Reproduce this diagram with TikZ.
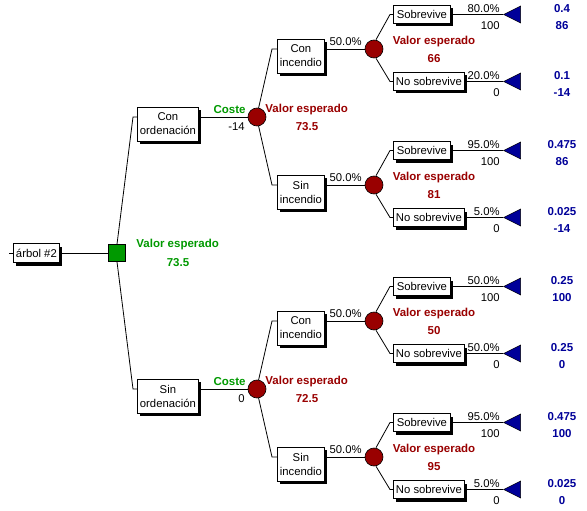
\documentclass[tikz,border=0pt]{standalone}
\usepackage{fontspec}
\setmainfont{Liberation Sans}
\usetikzlibrary{shapes.geometric,shadows}
\definecolor{dgreen}{RGB}{0,153,0}
\definecolor{dred}{RGB}{153,0,0}
\definecolor{dblue}{RGB}{0,0,153}
\newcommand\rmfs{\fontsize{11.3}{14}\selectfont}
\newcommand\bdfs{\fontsize{11.5}{14}\selectfont\bfseries}
\begin{document}
\begin{tikzpicture}[x=1pt,y=-1pt,line width=0.8pt,
  box/.style={draw, fill=white, inner sep=0pt, align=center, font=\rmfs,
    drop shadow={shadow xshift=3pt, shadow yshift=-3pt, fill=black, opacity=1}},
  chance/.style={circle, draw, fill=dred, minimum size=18pt, inner sep=0pt, line width=0.6pt},
  decis/.style={rectangle, draw, fill=dgreen, minimum size=17pt, inner sep=0pt, line width=0.6pt},
  term/.style={isosceles triangle, isosceles triangle stretches, shape border rotate=180,
    draw=black, fill=dblue, minimum width=17pt, minimum height=17pt, inner sep=0pt, line width=0.5pt},
  lbl/.style={font=\rmfs, inner sep=0pt},
  vered/.style={font=\bdfs, text=dred, inner sep=0pt},
  vegreen/.style={font=\bdfs, text=dgreen, inner sep=0pt},
  vblue/.style={font=\bdfs, text=dblue, inner sep=0pt}]
\useasboundingbox (0,0) rectangle (587,511);
% root
\coordinate (start) at (9,253);
\node[box, anchor=west, minimum width=46pt, minimum height=19pt] (root) at (13,253) {árbol \#2};
\node[decis] (dec) at (117,253) {};
\draw (start) -- (root.west);
\draw (root.east) -- (dec.west);
\node[vegreen, anchor=west] (veroot) at (136,245) {Valor esperado};
\node[vegreen] (veroot2) at (178,263) {73.5};
% decision branches
\node[box, anchor=west, minimum width=61pt, minimum height=34pt] (co) at (137,124) {Con\\ordenación};
\node[box, anchor=west, minimum width=61pt, minimum height=34pt] (so) at (137,396) {Sin\\ordenación};
\draw (dec.north) -- ([xshift=-4pt,yshift=7pt]co.west) -- ([yshift=7pt]co.west);
\draw (dec.south) -- ([xshift=-4pt,yshift=7pt]so.west) -- ([yshift=7pt]so.west);
\node[chance] (c1) at (257,117) {};
\node[chance] (c2) at (257,389) {};
\draw ([yshift=7pt]co.east) -- (c1.west);
\draw ([yshift=7pt]so.east) -- (c2.west);
\node[vegreen, anchor=east] (cost1) at (246,110) {Coste};
\node[lbl, anchor=east] (cv1) at (245,127) {-14};
\node[vegreen, anchor=east] (cost2) at (246,382) {Coste};
\node[lbl, anchor=east] (cv2) at (245,399) {0};
\node[vered, anchor=west] (ve1) at (265,110) {Valor esperado};
\node[vered] (ve1v) at (307,127) {73.5};
\node[vered, anchor=west] (ve2) at (265,382) {Valor esperado};
\node[vered] (ve2v) at (307,399) {72.5};
% chance subtrees
\foreach \id/\Y/\w/\pa/\pb/\ve/\ba/\bb/\bc/\bd in {
  1/49/Con/80.0\%/20.0\%/66/0.4/86/0.1/-14,
  2/185/Sin/95.0\%/5.0\%/81/0.475/86/0.025/-14,
  3/321/Con/50.0\%/50.0\%/50/0.25/100/0.25/0,
  4/457/Sin/95.0\%/5.0\%/95/0.475/100/0.025/0}{
  \node[box, anchor=west, minimum width=47pt, minimum height=34pt] (ci\id) at (277,\Y+7) {\w\\incendio};
  \node[chance] (cc\id) at (374,\Y) {};
  \draw ([yshift=7pt]ci\id.east) -- (cc\id.west);
  \node[lbl, anchor=east] (pp\id) at (362,\Y-7) {50.0\%};
  \node[box, anchor=west, minimum width=57pt, minimum height=18pt] (sb\id) at (393,\Y-34.5) {Sobrevive};
  \node[box, anchor=west, minimum width=71pt, minimum height=18pt] (ns\id) at (393,\Y+32.5) {No sobrevive};
  \draw (cc\id.north) ++(2pt,0) -- ([xshift=-3pt]sb\id.west) -- (sb\id.west);
  \draw (cc\id.south) ++(2pt,0) -- ([xshift=-3pt]ns\id.west) -- (ns\id.west);
  \node[term, anchor=apex] (ta\id) at (503,\Y-34.5) {};
  \node[term, anchor=apex] (tb\id) at (503,\Y+32.5) {};
  \draw (sb\id.east) -- (ta\id.apex);
  \draw (ns\id.east) -- (tb\id.apex);
  \node[lbl, anchor=east] (pa\id) at (500,\Y-40.5) {\pa};
  \node[lbl, anchor=east] (va\id) at (500,\Y-23.5) {100};
  \node[lbl, anchor=east] (pb\id) at (500,\Y+26.5) {\pb};
  \node[lbl, anchor=east] (vb\id) at (500,\Y+43.5) {0};
  \node[vered] (vr\id) at (434,\Y-7) {Valor esperado};
  \node[vered] (vv\id) at (434,\Y+10) {\ve};
  \node[vblue] (ba\id) at (562,\Y-40.5) {\ba};
  \node[vblue] (bb\id) at (562,\Y-23.5) {\bb};
  \node[vblue] (bc\id) at (562,\Y+26.5) {\bc};
  \node[vblue] (bd\id) at (562,\Y+43.5) {\bd};
}
\draw (c1.80) -- ([xshift=-5pt,yshift=7pt]ci1.west) -- ([yshift=7pt]ci1.west);
\draw (c1.-80) -- ([xshift=-5pt,yshift=7pt]ci2.west) -- ([yshift=7pt]ci2.west);
\draw (c2.80) -- ([xshift=-5pt,yshift=7pt]ci3.west) -- ([yshift=7pt]ci3.west);
\draw (c2.-80) -- ([xshift=-5pt,yshift=7pt]ci4.west) -- ([yshift=7pt]ci4.west);
\end{tikzpicture}
\end{document}
